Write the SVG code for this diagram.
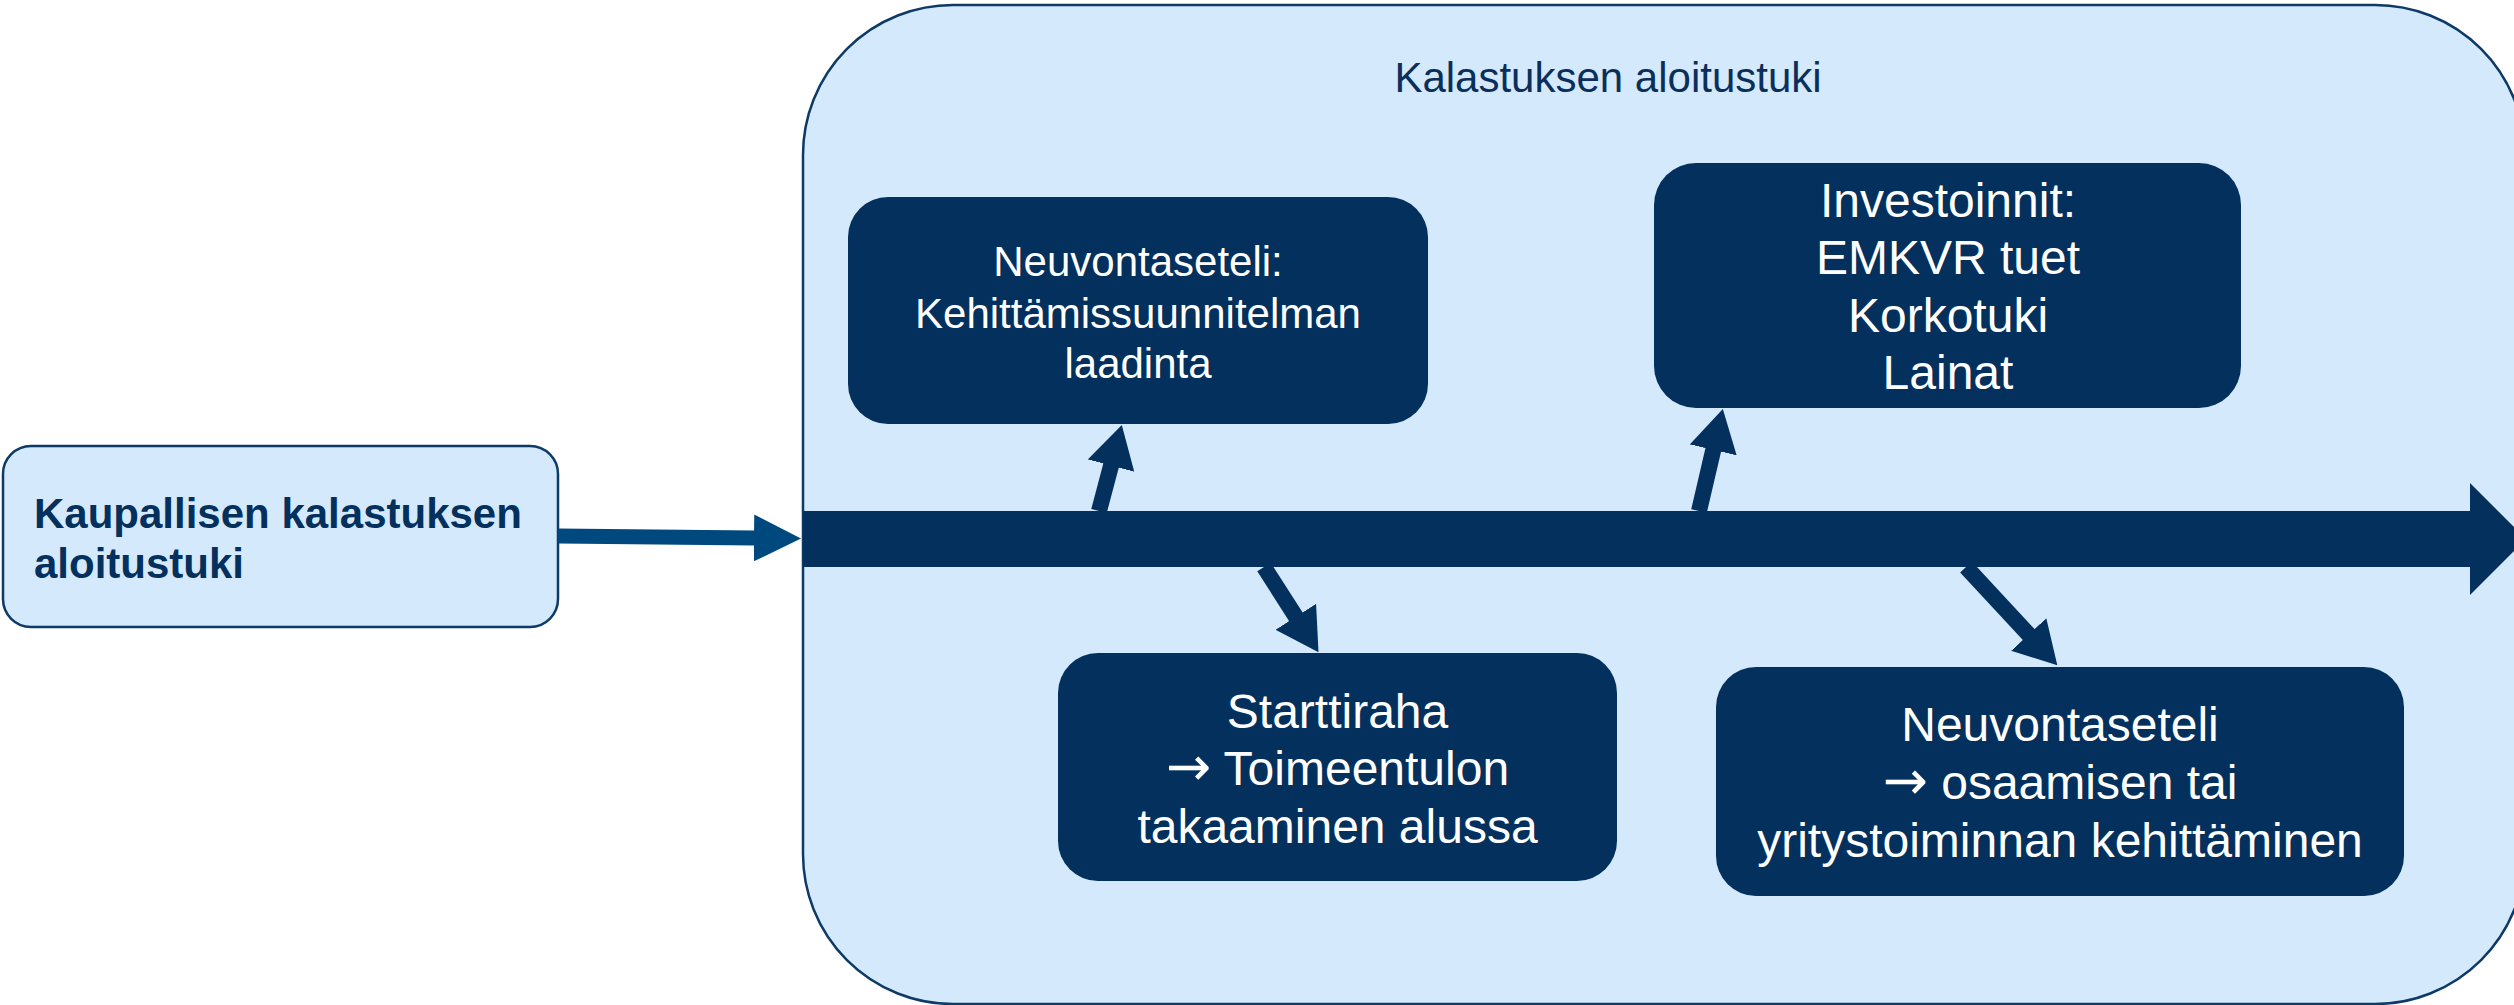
<svg xmlns="http://www.w3.org/2000/svg" width="2514" height="1005" viewBox="0 0 2514 1005">
  <style>
    .container { fill: #D5E9FD; stroke: #0D3A66; stroke-width: 2.5; }
    .src { fill: #D5E9FD; stroke: #0D3A66; stroke-width: 2.5; }
    .node { fill: #03305C; }
    .t { font-family: "Liberation Sans", Arial, sans-serif; }
    .title { font-size: 42px; fill: #0B2F5B; text-anchor: middle; }
    .srct { font-size: 42px; font-weight: bold; fill: #03305C; }
    .nt42 { font-size: 42px; fill: #FFFFFF; text-anchor: middle; }
    .nt48 { font-size: 48px; fill: #FFFFFF; text-anchor: middle; }
    .arr { font-family: "DejaVu Sans", sans-serif; font-size: 54px; }
    .link { fill: none; stroke: #03305C; stroke-width: 16; }
    .feed { fill: none; stroke: #00497F; stroke-width: 15; }
  </style>
  <defs>
    <marker id="head" markerUnits="userSpaceOnUse" viewBox="0 0 42 48" markerWidth="42" markerHeight="48" refX="1" refY="24" orient="auto">
      <path d="M0,0 L42,24 L0,48 Z" fill="#03305C"/>
    </marker>
    <marker id="headFeed" markerUnits="userSpaceOnUse" viewBox="0 0 47 47" markerWidth="47" markerHeight="47" refX="1" refY="23.5" orient="auto">
      <path d="M0,0 L47,23.5 L0,47 Z" fill="#00497F"/>
    </marker>
  </defs>

  <g id="source">
    <rect class="src" x="3" y="446" width="555" height="181" rx="28" ry="28"/>
    <text class="t srct" x="34" y="528">Kaupallisen kalastuksen</text>
    <text class="t srct" x="34" y="578">aloitustuki</text>
  </g>

  <g id="container">
    <rect class="container" x="803" y="5" width="1722" height="999" rx="150" ry="150"/>
    <text class="t title" x="1608" y="92">Kalastuksen aloitustuki</text>
  </g>

  <g id="connectors">
    <line class="feed" x1="558" y1="536" x2="755" y2="538" marker-end="url(#headFeed)"/>
    <polygon points="803,511 2470,511 2470,483 2526,539 2470,595 2470,567 803,567" fill="#03305C"/>
    <line class="link" x1="1099" y1="511" x2="1111.3" y2="464.6" marker-end="url(#head)"/>
    <line class="link" x1="1699" y1="511" x2="1713.5" y2="448.9" marker-end="url(#head)"/>
    <line class="link" x1="1264" y1="567" x2="1296.4" y2="617.6" marker-end="url(#head)"/>
    <line class="link" x1="1966" y1="567" x2="2029.4" y2="635.2" marker-end="url(#head)"/>
  </g>

  <g id="node-neuvontaseteli-1">
    <rect class="node" x="848" y="197" width="580" height="227" rx="40" ry="40"/>
    <text class="t nt42" x="1138" y="276">Neuvontaseteli:</text>
    <text class="t nt42" x="1138" y="328">Kehittämissuunnitelman</text>
    <text class="t nt42" x="1138" y="378">laadinta</text>
  </g>

  <g id="node-investoinnit">
    <rect class="node" x="1654" y="163" width="587" height="245" rx="42" ry="42"/>
    <text class="t nt48" x="1948" y="217">Investoinnit:</text>
    <text class="t nt48" x="1948" y="274">EMKVR tuet</text>
    <text class="t nt48" x="1948" y="332">Korkotuki</text>
    <text class="t nt48" x="1948" y="389">Lainat</text>
  </g>

  <g id="node-starttiraha">
    <rect class="node" x="1058" y="653" width="559" height="228" rx="40" ry="40"/>
    <text class="t nt48" x="1337.5" y="728">Starttiraha</text>
    <text class="t nt48" x="1337.5" y="785"><tspan class="arr">→</tspan> Toimeentulon</text>
    <text class="t nt48" x="1337.5" y="843">takaaminen alussa</text>
  </g>

  <g id="node-neuvontaseteli-2">
    <rect class="node" x="1716" y="667" width="688" height="229" rx="40" ry="40"/>
    <text class="t nt48" x="2060" y="741">Neuvontaseteli</text>
    <text class="t nt48" x="2060" y="799"><tspan class="arr">→</tspan> osaamisen tai</text>
    <text class="t nt48" x="2060" y="857">yritystoiminnan kehittäminen</text>
  </g>
</svg>
